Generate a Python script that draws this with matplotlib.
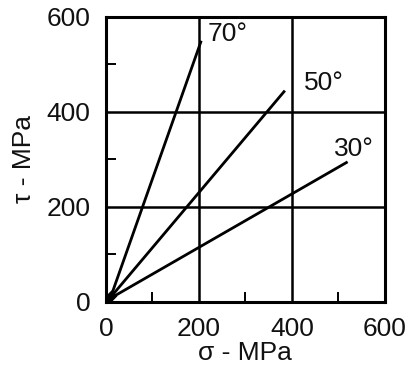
import matplotlib
matplotlib.use("Agg")
import matplotlib.pyplot as plt

plt.rcParams['font.family'] = ['Liberation Sans', 'DejaVu Sans']

labels = ["70°", "50°", "30°"]
x_start = [10, 10, 10]
y_start = [10, 10, 8]
x_end = [205, 385, 520]
y_end = [550, 445, 295]
label_x = [218, 425, 490]
label_y = [565, 462, 322]
ticks = [0, 200, 400, 600]
minor = [100, 300, 500]

fig = plt.figure(figsize=(4.1, 3.8), dpi=100)
ax = fig.add_axes([0.2585, 0.2053, 0.680, 0.750])
ax.set_xlim(0, 600)
ax.set_ylim(0, 600)

for v in [200, 400]:
    ax.axvline(v, color='black', lw=1.8, zorder=1)
    ax.axhline(v, color='black', lw=1.8, zorder=1)

for xs, ys, xe, ye, lab, lx, ly in zip(x_start, y_start, x_end, y_end, labels, label_x, label_y):
    ax.plot([xs, xe], [ys, ye], color='black', lw=2.0, zorder=2, solid_capstyle='butt')
    ax.text(lx, ly, lab, fontsize=19, ha='left', va='center', color='#111111')

ax.plot([0, 12], [0, 12], color='black', lw=6, zorder=3)

ax.set_xticks(ticks)
ax.set_yticks(ticks)
ax.set_xticks(minor, minor=True)
ax.set_yticks(minor, minor=True)
ax.tick_params(which='major', length=0, labelsize=19, colors='#111111')
ax.tick_params(which='minor', direction='in', length=7, width=1.4, color='black')
ax.tick_params(axis='x', which='major', pad=11)
ax.tick_params(axis='y', which='major', pad=11)
for s in ax.spines.values():
    s.set_linewidth(2.2)
    s.set_color('black')

ax.set_xlabel("σ - MPa", fontsize=19, labelpad=0, color='#111111')
ax.set_ylabel("τ - MPa", fontsize=19, labelpad=8, color='#111111')

fig.savefig("out.png", dpi=100)
